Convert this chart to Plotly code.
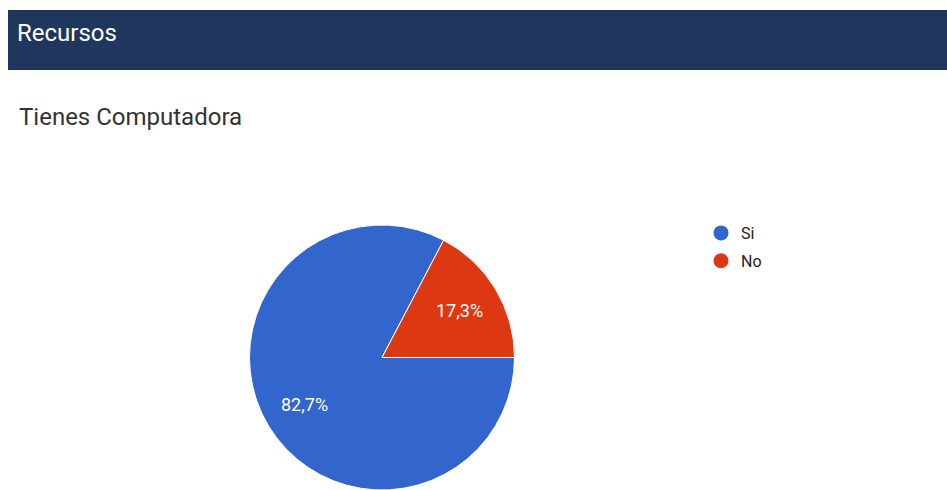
import math
import plotly.graph_objects as go

# Survey answers for "Tienes Computadora"
labels = ["Si", "No"]
shares = [82.7, 17.3]
colors = ["#3366cc", "#dc3912"]

W, H = 947, 490

# Pie placement (pixels): centre and radius inside the page
CX, TOP = 382, 225
R = (H - TOP) / 2
CY = TOP + R
START_DEG = 90          # first slice starts at 3 o'clock, going clockwise
LABEL_FRAC = 0.68       # label distance from centre, as a fraction of radius

fig = go.Figure()

fig.add_trace(go.Pie(
    labels=labels,
    values=shares,
    sort=False,
    direction="clockwise",
    rotation=START_DEG,
    marker=dict(colors=colors, line=dict(color="white", width=1)),
    textinfo="none",
    hoverinfo="label+percent",
    showlegend=False,
    domain=dict(x=[(CX - R - 5) / W, (CX + R + 5) / W], y=[0, 1 - TOP / H]),
))

# Percentage labels placed at each slice's mid-angle
total = sum(shares)
annotations = []
acc = 0.0
for v in shares:
    mid = START_DEG + 360 * (acc + v / 2) / total
    acc += v
    px = CX + LABEL_FRAC * R * math.sin(math.radians(mid))
    py = CY - LABEL_FRAC * R * math.cos(math.radians(mid))
    pct = 100 * v / total
    annotations.append(dict(
        text=f"{pct:.1f}%".replace(".", ","),
        xref="paper", yref="paper", x=px / W, y=1 - py / H,
        xanchor="center", yanchor="middle", showarrow=False,
        font=dict(family="Roboto, Arial, sans-serif", size=18, color="white"),
    ))

# Circle legend entries, one group each so the gap between them can be set
for name, col in zip(labels, colors):
    fig.add_trace(go.Scatter(
        x=[None], y=[None], mode="markers", name=name,
        legendgroup=name,
        marker=dict(symbol="circle", size=15, color=col),
    ))

annotations += [
    dict(text="Recursos", xref="paper", yref="paper",
         x=15 / W, y=1 - 33 / H, xanchor="left", yanchor="middle",
         showarrow=False,
         font=dict(family="Roboto, Arial, sans-serif", size=24, color="white")),
    dict(text="Tienes Computadora", xref="paper", yref="paper",
         x=17 / W, y=1 - 117 / H, xanchor="left", yanchor="middle",
         showarrow=False,
         font=dict(family="Roboto, Arial, sans-serif", size=24, color="#333333")),
]

fig.update_layout(
    width=W, height=H,
    margin=dict(l=0, r=0, t=0, b=0),
    paper_bgcolor="white",
    plot_bgcolor="white",
    xaxis=dict(visible=False),
    yaxis=dict(visible=False),
    legend=dict(
        x=701 / W, y=1 - 216 / H, xanchor="left", yanchor="top",
        font=dict(family="Roboto, Arial, sans-serif", size=16, color="#222222"),
        tracegroupgap=4,
        bgcolor="rgba(0,0,0,0)",
    ),
    shapes=[
        dict(type="rect", xref="paper", yref="paper",
             x0=8 / W, x1=1, y0=1 - 70 / H, y1=1 - 10 / H,
             fillcolor="#1f375c", line=dict(width=0), layer="below"),
    ],
    annotations=annotations,
)

fig.write_html("out.html")
